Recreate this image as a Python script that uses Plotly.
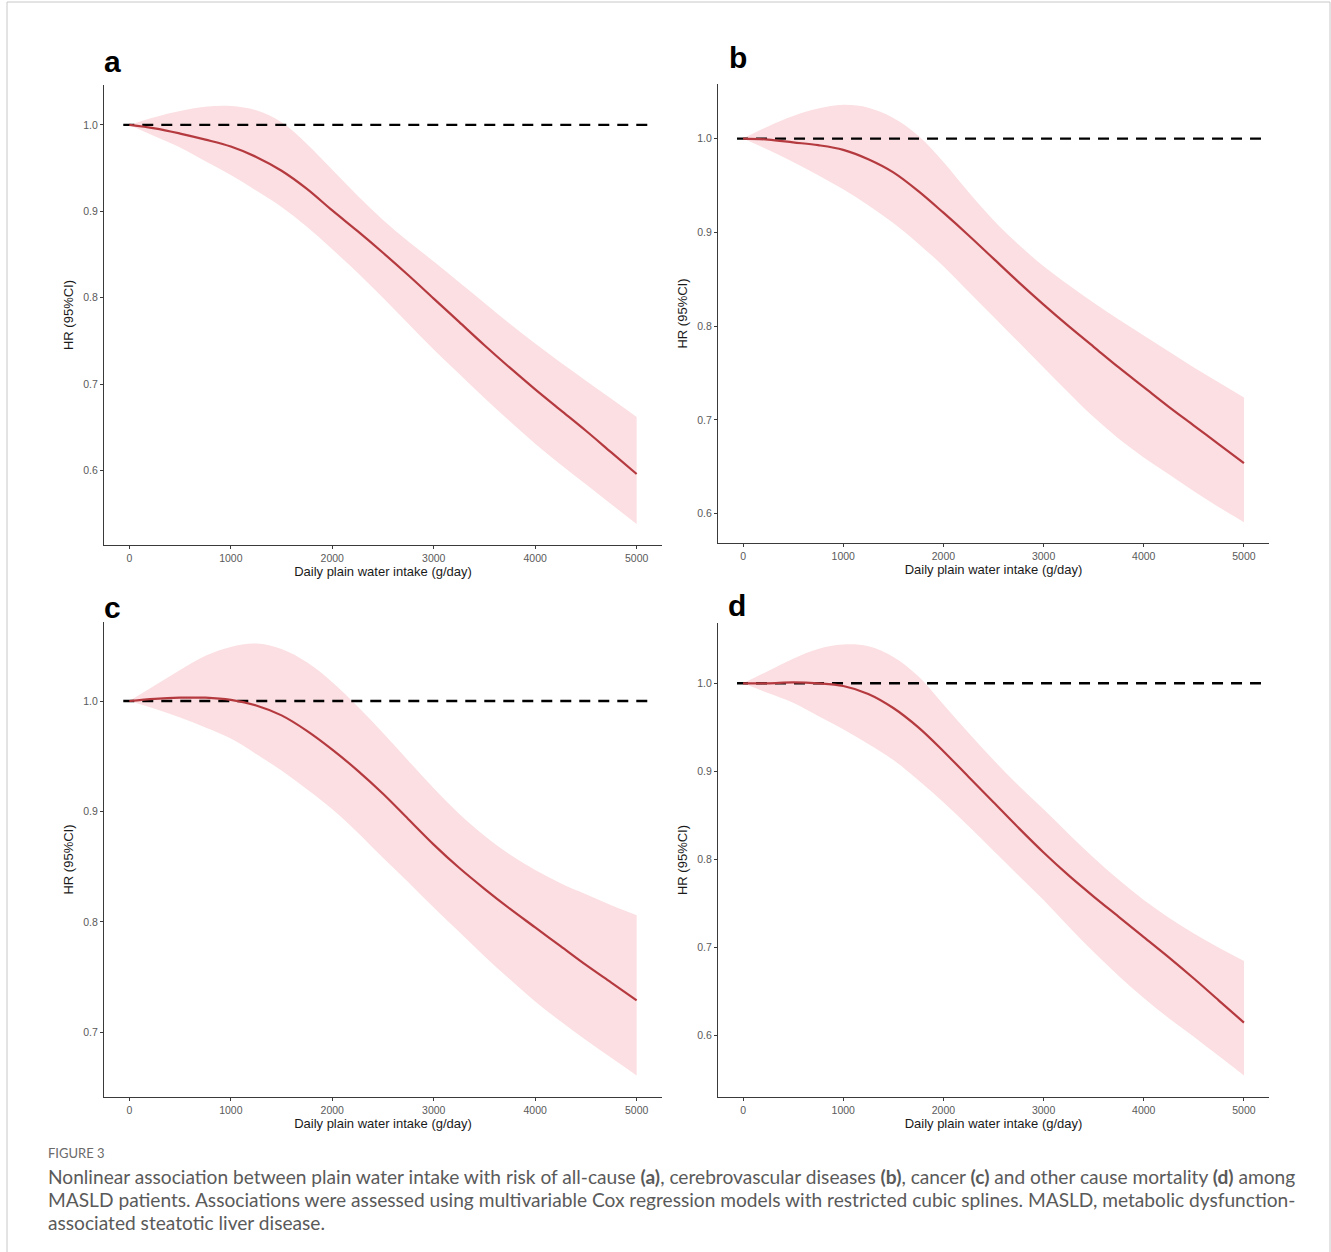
import plotly.graph_objects as go

W, H = 1331, 1252

# ---------------- data ----------------
water = [0, 250, 500, 750, 1000, 1250, 1500, 1750, 2000, 2250, 2500, 2750,
         3000, 3250, 3500, 3750, 4000, 4250, 4500, 4750, 5000]

hr_a    = [1.0, 0.996, 0.990, 0.983, 0.975, 0.963, 0.947, 0.926, 0.901, 0.877, 0.852, 0.826, 0.799, 0.772, 0.745, 0.719, 0.694, 0.670, 0.646, 0.621, 0.596]
upper_a = [1.0, 1.009, 1.016, 1.021, 1.022, 1.017, 1.003, 0.978, 0.948, 0.918, 0.890, 0.865, 0.842, 0.818, 0.794, 0.770, 0.747, 0.725, 0.704, 0.683, 0.662]
lower_a = [1.0, 0.987, 0.974, 0.958, 0.942, 0.924, 0.905, 0.882, 0.856, 0.829, 0.800, 0.770, 0.740, 0.712, 0.684, 0.657, 0.631, 0.607, 0.584, 0.561, 0.538]

hr_b    = [1.0, 0.999, 0.996, 0.993, 0.988, 0.978, 0.964, 0.944, 0.921, 0.897, 0.872, 0.847, 0.823, 0.800, 0.778, 0.756, 0.735, 0.714, 0.694, 0.674, 0.654]
upper_b = [1.0, 1.013, 1.024, 1.032, 1.036, 1.033, 1.022, 1.003, 0.975, 0.943, 0.913, 0.887, 0.864, 0.844, 0.825, 0.807, 0.790, 0.773, 0.756, 0.740, 0.724]
lower_b = [1.0, 0.988, 0.975, 0.961, 0.946, 0.929, 0.910, 0.888, 0.864, 0.837, 0.810, 0.783, 0.756, 0.729, 0.703, 0.680, 0.660, 0.642, 0.624, 0.607, 0.591]

hr_c    = [1.0, 1.002, 1.003, 1.003, 1.001, 0.996, 0.987, 0.973, 0.956, 0.937, 0.916, 0.893, 0.870, 0.849, 0.830, 0.812, 0.795, 0.778, 0.761, 0.745, 0.729]
upper_c = [1.0, 1.014, 1.028, 1.041, 1.049, 1.052, 1.047, 1.035, 1.017, 0.995, 0.971, 0.946, 0.921, 0.898, 0.878, 0.861, 0.847, 0.835, 0.825, 0.815, 0.806]
lower_c = [1.0, 0.993, 0.985, 0.976, 0.966, 0.952, 0.937, 0.920, 0.902, 0.881, 0.858, 0.836, 0.813, 0.791, 0.769, 0.748, 0.728, 0.710, 0.693, 0.677, 0.661]

hr_d    = [1.0, 1.000, 1.001, 1.000, 0.997, 0.988, 0.972, 0.950, 0.923, 0.894, 0.865, 0.836, 0.808, 0.782, 0.758, 0.735, 0.712, 0.689, 0.665, 0.640, 0.615]
upper_d = [1.0, 1.014, 1.028, 1.039, 1.044, 1.042, 1.030, 1.008, 0.976, 0.944, 0.913, 0.884, 0.857, 0.829, 0.802, 0.777, 0.754, 0.734, 0.716, 0.700, 0.685]
lower_d = [1.0, 0.989, 0.978, 0.963, 0.948, 0.931, 0.913, 0.890, 0.865, 0.838, 0.810, 0.782, 0.754, 0.724, 0.695, 0.668, 0.643, 0.620, 0.599, 0.577, 0.555]

ref_x = [-60, 5170]
ref_hr = 1.0

panel_letters = ["a", "b", "c", "d"]
x_ticks = [0, 1000, 2000, 3000, 4000, 5000]
y_ticks = [0.6, 0.7, 0.8, 0.9, 1.0]
x_title = "Daily plain water intake (g/day)"
y_title = "HR (95%CI)"

fig_label = "FIGURE 3"
caption_lines = [
    "Nonlinear association between plain water intake with risk of all-cause <b>(a)</b>, cerebrovascular diseases <b>(b)</b>, cancer <b>(c)</b> and other cause mortality <b>(d)</b> among",
    "MASLD patients. Associations were assessed using multivariable Cox regression models with restricted cubic splines. MASLD, metabolic dysfunction-",
    "associated steatotic liver disease.",
]

panels = [
    (hr_a, upper_a, lower_a),
    (hr_b, upper_b, lower_b),
    (hr_c, upper_c, lower_c),
    (hr_d, upper_d, lower_d),
]

# ---------------- layout (pixel boxes) ----------------
boxes = [
    (104, 662, 85, 545),
    (718, 1269, 84, 543),
    (104, 662, 622, 1097),
    (718, 1269, 623, 1097),
]
letter_pos = [(102, 72), (727, 68), (102, 618), (726, 616)]  # left, baseline

def px(x):
    return x / W

def py(y):
    return 1 - y / H

LINE = "#b53a3f"
FILL = "#fbdfe2"
AX = "#3a3a3a"
FONT = "Liberation Sans, Arial, sans-serif"
SM = 1.0

fig = go.Figure()
layout = dict(
    width=W, height=H,
    margin=dict(l=0, r=0, t=0, b=0),
    paper_bgcolor="white", plot_bgcolor="white",
    showlegend=False,
    font=dict(family=FONT),
)

annotations = []
for i, (hr, up, lo) in enumerate(panels):
    n = i + 1
    xa = "x" if n == 1 else f"x{n}"
    ya = "y" if n == 1 else f"y{n}"
    fig.add_trace(go.Scatter(x=water, y=lo, mode="lines", line=dict(width=0, shape="spline", smoothing=SM),
                             xaxis=xa, yaxis=ya, hoverinfo="skip"))
    fig.add_trace(go.Scatter(x=water, y=up, mode="lines", line=dict(width=0, shape="spline", smoothing=SM),
                             fill="tonexty", fillcolor=FILL, xaxis=xa, yaxis=ya, hoverinfo="skip"))
    fig.add_trace(go.Scatter(x=ref_x, y=[ref_hr, ref_hr], mode="lines",
                             line=dict(color="black", width=2.4, dash="11px,8px"),
                             xaxis=xa, yaxis=ya, hoverinfo="skip"))
    fig.add_trace(go.Scatter(x=water, y=hr, mode="lines",
                             line=dict(color=LINE, width=2.2, shape="spline", smoothing=SM),
                             xaxis=xa, yaxis=ya))

    ymin = min(lo); ymax = max(up)
    pad = 0.05 * (ymax - ymin)
    l, r, t, b = boxes[i]
    axis_common = dict(showline=True, linecolor=AX, linewidth=1.3, ticks="outside",
                       ticklen=3, tickwidth=1, tickcolor=AX, showgrid=False, zeroline=False,
                       tickfont=dict(size=10.5, color="#5a5a5a", family=FONT))
    layout["xaxis" if n == 1 else f"xaxis{n}"] = dict(
        domain=[px(l), px(r)], anchor=ya, range=[-250, 5250],
        tickvals=x_ticks, ticktext=[str(v) for v in x_ticks],
        title=dict(text=x_title, font=dict(size=13, color="#1a1a1a"), standoff=4),
        **axis_common)
    layout["yaxis" if n == 1 else f"yaxis{n}"] = dict(
        domain=[py(b), py(t)], anchor=xa, range=[ymin - pad, ymax + pad],
        tickvals=y_ticks, ticktext=[f"{v:.1f}" for v in y_ticks],
        title=dict(text=y_title, font=dict(size=13, color="#1a1a1a"), standoff=6),
        **axis_common)
    lx, lb = letter_pos[i]
    annotations.append(dict(text=f"<b>{panel_letters[i]}</b>", x=px(lx), y=py(lb - 10.5),
                            xref="paper", yref="paper", xanchor="left", yanchor="middle",
                            showarrow=False, font=dict(size=30, color="black", family=FONT)))

CAP_FONT = "Lato, Open Sans, sans-serif"
annotations.append(dict(text=fig_label, x=px(46), y=py(1153), xref="paper", yref="paper",
                        xanchor="left", yanchor="middle", showarrow=False,
                        font=dict(size=13, color="#6a6a6a", family=CAP_FONT)))
for k, line in enumerate(caption_lines):
    annotations.append(dict(text=line, x=px(46), y=py(1176 + 23 * k), xref="paper", yref="paper",
                            xanchor="left", yanchor="middle", showarrow=False, align="left",
                            font=dict(size=19.15, color="#5a5a5a", family=CAP_FONT)))

layout["annotations"] = annotations
layout["shapes"] = [dict(type="rect", xref="paper", yref="paper",
                         x0=px(7), x1=px(1330), y0=py(1262), y1=py(2),
                         line=dict(color="#c8c8c8", width=1), fillcolor="rgba(0,0,0,0)", layer="below")]
fig.update_layout(**layout)
fig.write_html("out.html", config={"displayModeBar": False},
               post_script="document.body.style.margin='0px';document.documentElement.style.overflow='hidden';document.body.style.overflow='hidden';")
